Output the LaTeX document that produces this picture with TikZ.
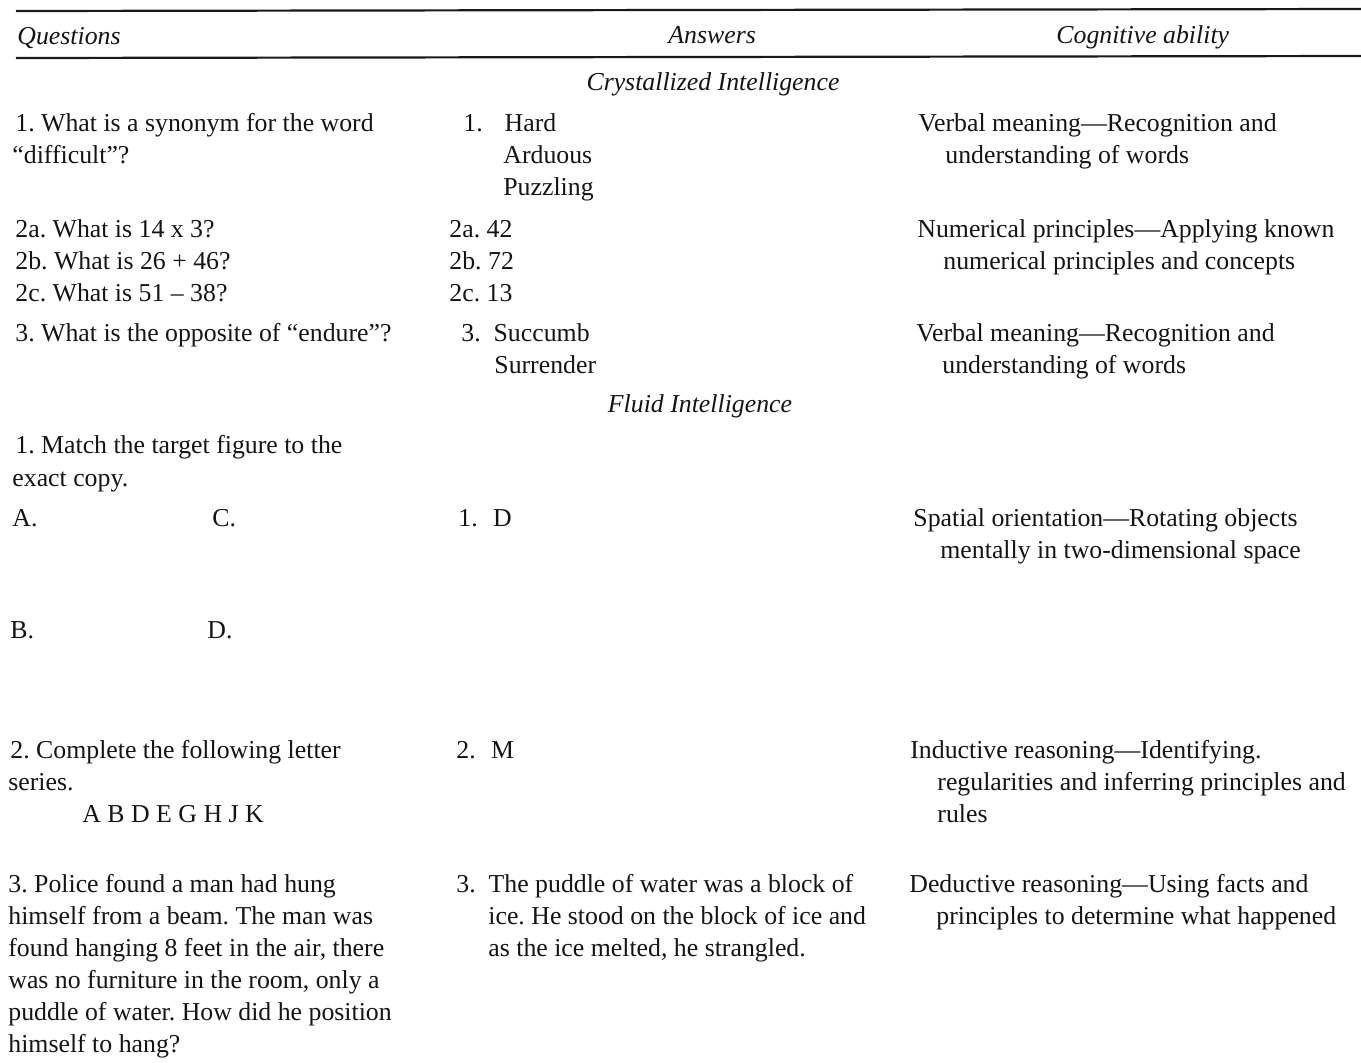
\documentclass[tikz,border=0pt]{standalone}
\usepackage{fontspec}
\setmainfont{Liberation Serif}
\frenchspacing
\begin{document}
\begin{tikzpicture}[x=0.5pt,y=-0.5pt,
  txt/.style={inner sep=0pt,anchor=base west,font=\fontsize{12.9pt}{16pt}\selectfont\frenchspacing,text=black!92},
  hd/.style={txt,font=\fontsize{12.9pt}{16pt}\selectfont\itshape},
  ctr/.style={hd,anchor=base},
  rule/.style={line width=1.1pt,black!90}]
\useasboundingbox (0,0) rectangle (1361,1062);
\newcommand\putline[4]{\node[txt] (#1) at (#2,#3) {#4};}
% rules
\coordinate (r1a) at (16,11); \coordinate (r1b) at (1361,9);
\coordinate (r2a) at (16,58); \coordinate (r2b) at (1361,56);
\draw[rule] (r1a) -- (r1b);
\draw[rule] (r2a) -- (r2b);
% headers
\node[hd] (hq) at (17,44) {Questions};
\node[hd] (ha) at (668,43) {Answers};
\node[hd] (hc) at (1056,43) {Cognitive ability};
\node[ctr] (cryst) at (713,90) {Crystallized Intelligence};
% row 1
\putline{q1a}{15}{131}{1. What is a synonym for the word}
\putline{q1b}{12}{163}{“difficult”?}
\putline{a1a}{463}{131}{1.\hspace{0.85em}Hard}
\putline{a1b}{503}{163}{Arduous}
\putline{a1c}{503}{195}{Puzzling}
\putline{c1a}{918}{131}{Verbal meaning—Recognition and}
\putline{c1b}{945}{163}{understanding of words}
% row 2
\putline{q2a}{15}{237}{2a. What is 14 x 3?}
\putline{q2b}{15}{269}{2b. What is 26 + 46?}
\putline{q2c}{15}{301}{2c. What is 51 – 38?}
\putline{a2a}{449}{237}{2a. 42}
\putline{a2b}{449}{269}{2b. 72}
\putline{a2c}{449}{301}{2c. 13}
\putline{c2a}{917}{237}{Numerical principles—Applying known}
\putline{c2b}{943}{269}{numerical principles and concepts}
% row 3
\putline{q3a}{15}{341}{3. What is the opposite of “endure”?}
\putline{a3a}{461}{341}{3.\hspace{0.5em}Succumb}
\putline{a3b}{494}{373}{Surrender}
\putline{c3a}{916}{341}{Verbal meaning—Recognition and}
\putline{c3b}{942}{373}{understanding of words}
\node[ctr] (fluid) at (700,412) {Fluid Intelligence};
% fluid 1
\putline{f1a}{15}{453}{1. Match the target figure to the}
\putline{f1b}{12}{486}{exact copy.}
\putline{f1A}{12}{526}{A.}
\putline{f1C}{212}{526}{C.}
\putline{f1B}{10}{638}{B.}
\putline{f1D}{207}{638}{D.}
\putline{g1a}{458}{526}{1.\hspace{0.6em}D}
\putline{d1a}{913}{526}{Spatial orientation—Rotating objects}
\putline{d1b}{940}{558}{mentally in two-dimensional space}
% fluid 2
\putline{f2a}{10}{758}{2. Complete the following letter}
\putline{f2b}{8}{790}{series.}
\putline{f2c}{82}{822}{A B D E G H J K}
\putline{g2a}{456}{758}{2.\hspace{0.6em}M}
\putline{d2a}{910}{758}{Inductive reasoning—Identifying.}
\putline{d2b}{937}{790}{regularities and inferring principles and}
\putline{d2c}{937}{822}{rules}
% fluid 3
\putline{f3a}{8}{892}{3. Police found a man had hung}
\putline{f3b}{8}{924}{himself from a beam. The man was}
\putline{f3c}{8}{956}{found hanging 8 feet in the air, there}
\putline{f3d}{8}{988}{was no furniture in the room, only a}
\putline{f3e}{8}{1020}{puddle of water. How did he position}
\putline{f3f}{8}{1052}{himself to hang?}
\putline{g3a}{456}{892}{3.\hspace{0.5em}The puddle of water was a block of}
\putline{g3b}{488}{924}{ice. He stood on the block of ice and}
\putline{g3c}{488}{956}{as the ice melted, he strangled.}
\putline{d3a}{909}{892}{Deductive reasoning—Using facts and}
\putline{d3b}{936}{924}{principles to determine what happened}
\end{tikzpicture}
\end{document}
